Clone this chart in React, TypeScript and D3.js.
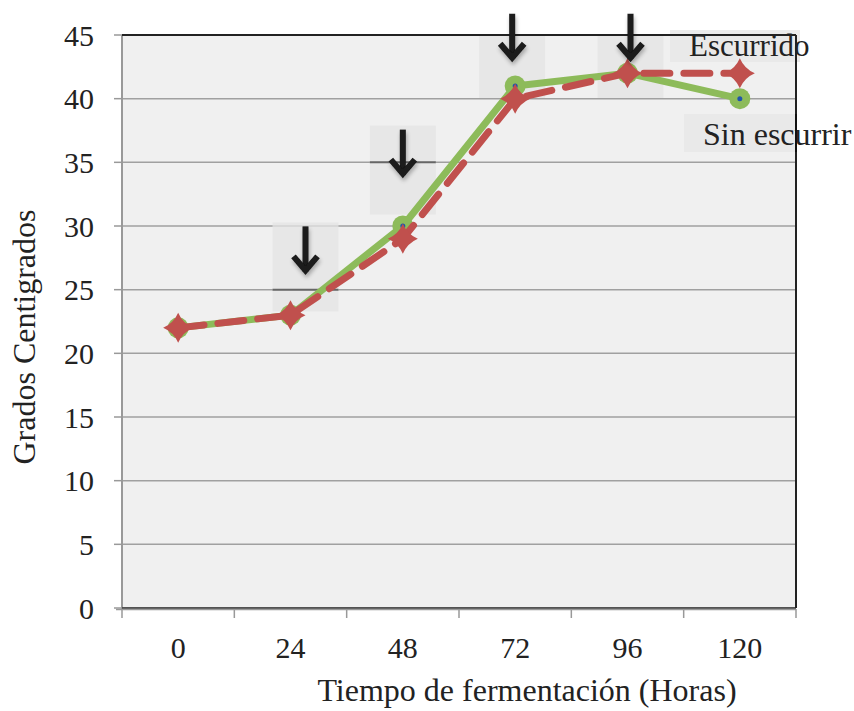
import React from "react";
import * as d3 from "d3";

const categories = ["0", "24", "48", "72", "96", "120"];
const sinEscurrir = [22, 23, 30, 41, 42, 40];
const escurrido = [22, 23, 29, 40, 42, 42];
const yTicks = [0, 5, 10, 15, 20, 25, 30, 35, 40, 45];
// arrow annotations: category, tip value, highlighted gridline
const arrowCats = ["24", "48", "72", "96"];
const arrowTips = [26.2, 33.8, 42.9, 42.9];
const arrowGrid = [25, 35, 45, 45];

export default function App() {
  const W = 854, H = 711;
  const left = 122, right = 796, top = 35, bottom = 608;
  const x = d3.scaleBand().domain(categories).range([left, right]);
  const y = d3.scaleLinear().domain([0, 45]).range([bottom, top]);
  const cx = (c: string) => (x(c) as number) + x.bandwidth() / 2;
  const line = d3.line<number>().x((_, i) => cx(categories[i])).y((d) => y(d));
  const font = "'Liberation Serif', 'DejaVu Serif', serif";
  const arrowDx = [15, 0, -3, 3];

  const diamond = (px: number, py: number) => {
    const r = 15, k = 4.5;
    return `M${px},${py - r} Q${px + k},${py - k} ${px + r},${py} Q${px + k},${py + k} ${px},${py + r} Q${px - k},${py + k} ${px - r},${py} Q${px - k},${py - k} ${px},${py - r}Z`;
  };

  return (
    <svg width={W} height={H} style={{ position: "absolute", left: 0, top: 0, background: "#fff" }}>
      <defs>
        <filter id="sh" x="-50%" y="-50%" width="200%" height="200%">
          <feGaussianBlur in="SourceAlpha" stdDeviation="2" />
          <feOffset dx="1" dy="3" result="b" />
          <feComponentTransfer><feFuncA type="linear" slope="0.3" /></feComponentTransfer>
          <feMerge><feMergeNode /><feMergeNode in="SourceGraphic" /></feMerge>
        </filter>
      </defs>
      <rect x={left} y={top} width={right - left} height={bottom - top} fill="#f0f0f0" />
      {yTicks.map((t) => (
        <line key={t} x1={left} x2={right} y1={y(t)} y2={y(t)} stroke="#a0a0a0" strokeWidth={1.5} />
      ))}
      {/* arrow boxes */}
      {arrowCats.map((c, i) => {
        const ax = cx(c) + arrowDx[i];
        const tip = y(arrowTips[i]);
        const by = i < 2 ? tip - 52 : top;
        const bh = i < 2 ? 89 : 63;
        return (
          <g key={c}>
            <rect x={ax - 33} y={by} width={66} height={bh} fill="#e4e4e4" opacity={0.75} />
            <line x1={ax - 33} x2={ax + 33} y1={y(arrowGrid[i])} y2={y(arrowGrid[i])} stroke="#666" strokeWidth={2} />
          </g>
        );
      })}
      {/* label boxes */}
      <rect x={670} y={30} width={130} height={32} fill="#e8e8e8" opacity={0.85} />
      <rect x={684} y={114} width={112} height={38} fill="#e8e8e8" opacity={0.85} />
      {/* axes */}
      <line x1={left} x2={left} y1={top} y2={bottom + 1} stroke="#999" strokeWidth={2} />
      {yTicks.map((t) => (
        <g key={"yt" + t}>
          <line x1={left - 8} x2={left} y1={y(t)} y2={y(t)} stroke="#999" strokeWidth={1.5} />
          <text x={left - 28} y={y(t)} dy="0.35em" textAnchor="end" fontFamily={font} fontSize={30} fill="#222">{t}</text>
        </g>
      ))}
      <line x1={left} x2={right} y1={bottom} y2={bottom} stroke="#333" strokeWidth={1.5} />
      <line x1={left - 6} x2={right} y1={bottom + 1.5} y2={bottom + 1.5} stroke="#999" strokeWidth={1.5} />
      {[...categories.map((c) => x(c) as number), right].map((px, i) => (
        <line key={"xt" + i} x1={px} x2={px} y1={bottom + 1} y2={bottom + 10} stroke="#999" strokeWidth={1.5} />
      ))}
      {categories.map((c) => (
        <text key={"xl" + c} x={cx(c)} y={bottom + 50} textAnchor="middle" fontFamily={font} fontSize={30} fill="#222">{c}</text>
      ))}
      <text x={527} y={701} textAnchor="middle" fontFamily={font} fontSize={32} fill="#222">Tiempo de fermentación (Horas)</text>
      <text transform={`translate(35,337) rotate(-90)`} textAnchor="middle" fontFamily={font} fontSize={32} fill="#222">Grados Centigrados</text>
      {/* green series */}
      <path d={line(sinEscurrir) as string} fill="none" stroke="#8dbb5a" strokeWidth={7} strokeLinejoin="round" />
      {sinEscurrir.map((v, i) => (
        <g key={"g" + i}>
          <circle cx={cx(categories[i])} cy={y(v)} r={10.5} fill="#8dbb5a" />
          <circle cx={cx(categories[i])} cy={y(v)} r={2.5} fill="#2255aa" />
        </g>
      ))}
      {/* red series */}
      <path d={line(escurrido) as string} fill="none" stroke="#c0504d" strokeWidth={7} strokeDasharray="26 14" strokeLinecap="round" />
      {escurrido.map((v, i) => (
        <path key={"r" + i} d={diamond(cx(categories[i]), y(v))} fill="#c0504d" />
      ))}
      {/* frame */}
      <line x1={left} x2={right} y1={top} y2={top} stroke="#222" strokeWidth={2} />
      <line x1={right} x2={right} y1={top} y2={bottom} stroke="#222" strokeWidth={2} />
      {/* legend labels */}
      <text x={689} y={56} fontFamily={font} fontSize={31} fill="#222">Escurrido</text>
      <text x={703} y={145} fontFamily={font} fontSize={32} fill="#222">Sin escurrir</text>
      <line x1={right} x2={right} y1={114} y2={152} stroke="#111" strokeWidth={2} />
      {/* arrows */}
      {arrowCats.map((c, i) => {
        const ax = cx(c) + arrowDx[i];
        const tip = y(arrowTips[i]);
        const len = 48;
        return (
          <g key={"a" + c} filter="url(#sh)" stroke="#1a1a1a" strokeWidth={6} fill="none">
            <line x1={ax} x2={ax} y1={tip - len} y2={tip - 3} />
            <polyline points={`${ax - 12},${tip - 18} ${ax},${tip - 4} ${ax + 12},${tip - 18}`} strokeLinejoin="miter" />
          </g>
        );
      })}
    </svg>
  );
}
